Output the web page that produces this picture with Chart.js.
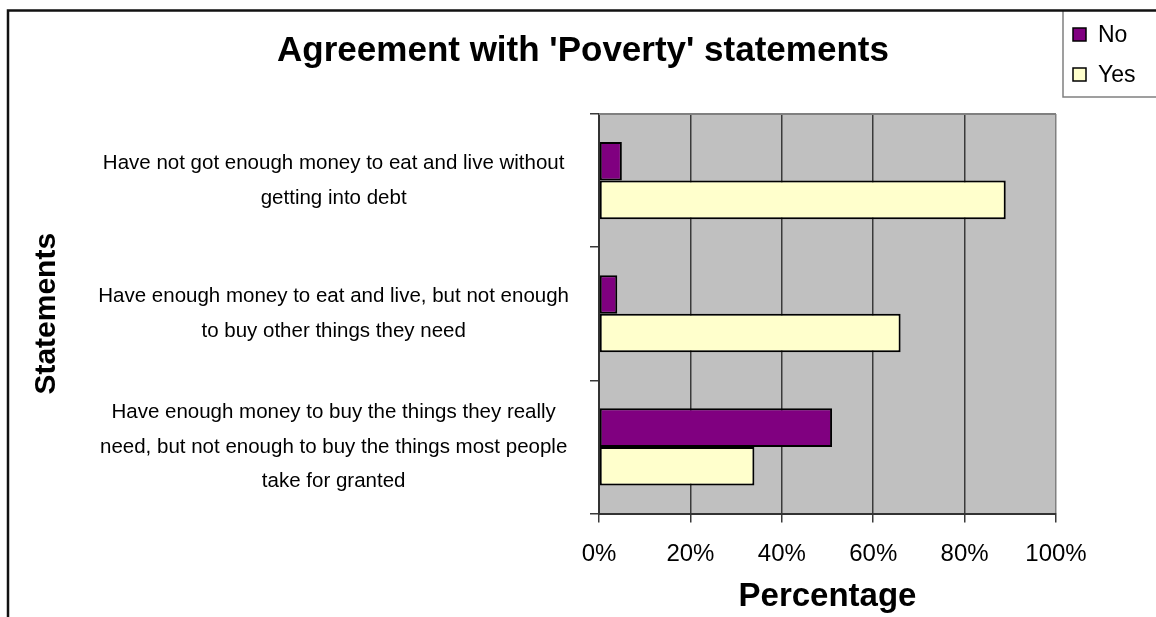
<!DOCTYPE html>
<html>
<head>
<meta charset="utf-8">
<title>Agreement with 'Poverty' statements</title>
<script src="https://cdn.jsdelivr.net/npm/chart.js@4.4.0/dist/chart.umd.min.js"></script>
<style>
    html, body { margin: 0; padding: 0; background: #ffffff; }
    #chart { display: block; }
</style>
</head>
<body>
<canvas id="chart" width="1156" height="617"></canvas>
<script>
const chartTitle = "Agreement with 'Poverty' statements";

// Statements, one array entry per drawn line of the label
const statements = [
    ['Have not got enough money to eat and live without', 'getting into debt'],
    ['Have enough money to eat and live, but not enough', 'to buy other things they need'],
    ['Have enough money to buy the things they really', 'need, but not enough to buy the things most people', 'take for granted']
];

// Percentage of answers per statement
const noValues = [5, 4, 51];
const yesValues = [89, 66, 34];

const seriesNames = ['No', 'Yes'];
const seriesColors = ['#800080', '#ffffcc'];

const FONT = "'Liberation Sans', Arial, sans-serif";

// Grey plot background plus the top edge of the plot frame
const plotBackground = {
    id: 'plotBackground',
    beforeDraw(chart) {
        const { ctx, chartArea: a } = chart;
        ctx.save();
        ctx.fillStyle = '#c0c0c0';
        ctx.fillRect(a.left, a.top, a.right - a.left, a.bottom - a.top);
        ctx.restore();
    },
    afterDatasetsDraw(chart) {
        const { ctx, chartArea: a } = chart;
        ctx.save();
        ctx.strokeStyle = '#808080';
        ctx.lineWidth = 2;
        ctx.beginPath();
        ctx.moveTo(a.left, a.top);
        ctx.lineTo(a.right, a.top);
        ctx.stroke();
        ctx.restore();
    }
};

// Title, outer frame and the boxed legend in the top right corner
const frameAndLegend = {
    id: 'frameAndLegend',
    afterDraw(chart) {
        const ctx = chart.ctx;
        const W = chart.width;
        ctx.save();

        // title sits over the whole sheet, not just the plot
        ctx.font = 'bold 35px ' + FONT;
        ctx.fillStyle = '#000000';
        ctx.textAlign = 'center';
        ctx.textBaseline = 'middle';
        ctx.fillText(chartTitle, 583, 51);

        // legend box
        ctx.strokeStyle = '#808080';
        ctx.lineWidth = 1.5;
        ctx.beginPath();
        ctx.moveTo(1063, 10);
        ctx.lineTo(1063, 97);
        ctx.lineTo(W, 97);
        ctx.stroke();

        ctx.font = '23px ' + FONT;
        ctx.textBaseline = 'alphabetic';
        ctx.textAlign = 'left';
        chart.data.datasets.forEach((ds, i) => {
            const y = 28 + i * 40;
            ctx.fillStyle = ds.backgroundColor;
            ctx.fillRect(1073, y, 13, 13);
            ctx.strokeStyle = '#000000';
            ctx.lineWidth = 1.5;
            ctx.strokeRect(1073, y, 13, 13);
            ctx.fillStyle = '#000000';
            ctx.fillText(ds.label, 1098, y + 13.5);
        });

        // frame: left and top edges
        ctx.strokeStyle = '#111111';
        ctx.lineWidth = 2.5;
        ctx.beginPath();
        ctx.moveTo(8, chart.height);
        ctx.lineTo(8, 10.5);
        ctx.lineTo(W, 10.5);
        ctx.stroke();
        ctx.restore();
    }
};

new Chart(document.getElementById('chart'), {
    type: 'bar',
    data: {
        labels: statements,
        datasets: [
            {
                label: seriesNames[0],
                data: noValues,
                backgroundColor: seriesColors[0],
                borderColor: '#000000',
                borderWidth: 2,
                borderSkipped: false
            },
            {
                label: seriesNames[1],
                data: yesValues,
                backgroundColor: seriesColors[1],
                borderColor: '#000000',
                borderWidth: 2,
                borderSkipped: false
            }
        ]
    },
    options: {
        indexAxis: 'y',
        responsive: false,
        animation: false,
        events: [],
        categoryPercentage: 0.58,
        barPercentage: 1.0,
        layout: {
            padding: { left: 0, right: 100, top: 114, bottom: 0 }
        },
        plugins: {
            legend: { display: false },
            tooltip: { enabled: false },
            title: { display: false }
        },
        scales: {
            x: {
                min: 0,
                max: 100,
                ticks: {
                    stepSize: 20,
                    color: '#000000',
                    padding: 17,
                    font: { family: FONT, size: 24 },
                    callback: (v) => v + '%'
                },
                grid: {
                    color: (c) => c.tick && c.tick.value === 100 ? '#808080' : '#3a3a3a',
                    lineWidth: 1.5,
                    tickLength: 9,
                    tickColor: '#3a3a3a'
                },
                border: { display: true, color: '#333333', width: 2 },
                title: {
                    display: true,
                    text: 'Percentage',
                    color: '#000000',
                    font: { family: FONT, size: 33, weight: 'bold' },
                    padding: { top: 0, bottom: 0 }
                },
                afterFit(scale) {
                    scale.height = 103.5;
                }
            },
            y: {
                ticks: {
                    color: '#000000',
                    crossAlign: 'center',
                    padding: 21,
                    font: { family: FONT, size: 20.5, lineHeight: 1.7 }
                },
                grid: {
                    offset: true,
                    drawOnChartArea: false,
                    tickLength: 9,
                    color: '#3a3a3a',
                    lineWidth: 1.5
                },
                border: { display: true, color: '#333333', width: 2 },
                title: {
                    display: true,
                    text: 'Statements',
                    color: '#000000',
                    font: { family: FONT, size: 30, weight: 'bold' },
                    padding: { top: 29, bottom: 0 }
                },
                afterFit(scale) {
                    scale.width = 599;
                }
            }
        }
    },
    plugins: [plotBackground, frameAndLegend]
});
</script>
</body>
</html>
